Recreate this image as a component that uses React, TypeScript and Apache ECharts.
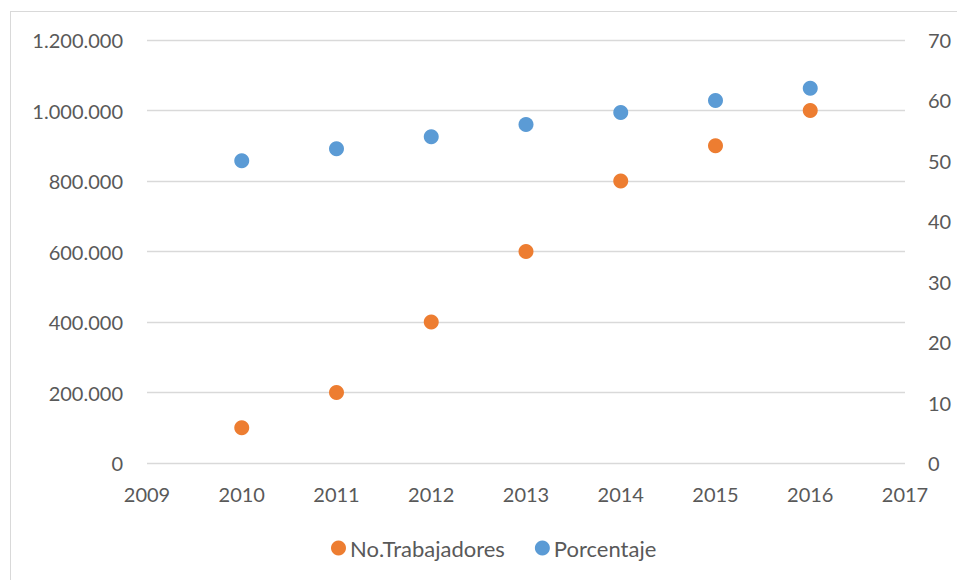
import React, { useEffect, useRef } from "react";
import * as echarts from "echarts";

const years = [2010, 2011, 2012, 2013, 2014, 2015, 2016];
const trabajadores = [100000, 200000, 400000, 600000, 800000, 900000, 1000000];
const porcentaje = [50, 52, 54, 56, 58, 60, 62];
const seriesNames = ["No.Trabajadores", "Porcentaje"];

const fmtThousands = (v: number) =>
  String(v).replace(/\B(?=(\d{3})+(?!\d))/g, ".");

export default function App() {
  const ref = useRef<HTMLDivElement>(null);
  useEffect(() => {
    const chart = echarts.init(ref.current!, null, { renderer: "svg" });
    const font = "Lato";
    const textColor = "#595959";
    chart.setOption({
      animation: false,
      textStyle: { fontFamily: font },
      grid: { left: 147, right: 52, top: 40, bottom: 117, containLabel: false },
      legend: {
        top: 532,
        left: 326,
        itemWidth: 15,
        itemHeight: 15,
        itemGap: 30,
        icon: "circle",
        textStyle: { color: textColor, fontSize: 22, fontFamily: font, padding: [0, 0, 0, -1] },
        data: seriesNames,
      },
      xAxis: {
        type: "value",
        min: 2009,
        max: 2017,
        interval: 1,
        axisLine: { show: false },
        axisTick: { show: false },
        splitLine: { show: false },
        axisLabel: { color: textColor, fontSize: 20, margin: 21, formatter: (v: number) => String(v) },
      },
      yAxis: [
        {
          type: "value",
          min: 0,
          max: 1200000,
          interval: 200000,
          axisLine: { show: false },
          axisTick: { show: false },
          splitLine: { show: true, lineStyle: { color: "#d9d9d9", width: 1.3 } },
          axisLabel: {
            color: textColor,
            fontSize: 20,
            margin: 24,
            formatter: (v: number) => fmtThousands(v),
          },
        },
        {
          type: "value",
          min: 0,
          max: 70,
          interval: 10,
          position: "right",
          axisLine: { show: false },
          axisTick: { show: false },
          splitLine: { show: false },
          axisLabel: { color: textColor, fontSize: 20, margin: 23 },
        },
      ],
      series: [
        {
          name: seriesNames[0],
          type: "scatter",
          yAxisIndex: 0,
          symbolSize: 15,
          itemStyle: { color: "#ED7D31", opacity: 1 },
          data: years.map((y, i) => [y, trabajadores[i]]),
        },
        {
          name: seriesNames[1],
          type: "scatter",
          yAxisIndex: 1,
          symbolSize: 15,
          itemStyle: { color: "#5B9BD5", opacity: 1 },
          data: years.map((y, i) => [y, porcentaje[i]]),
        },
      ],
    });
    return () => chart.dispose();
  }, []);
  return (
    <div style={{ position: "fixed", left: 0, top: 0, width: 957, height: 580, background: "#fff" }}>
      <div
        style={{
          position: "absolute",
          left: 10,
          top: 11,
          width: 960,
          height: 580,
          border: "1px solid #d9d9d9",
          boxSizing: "border-box",
        }}
      />
      <div ref={ref} style={{ position: "absolute", left: 0, top: 0, width: 957, height: 580 }} />
    </div>
  );
}
